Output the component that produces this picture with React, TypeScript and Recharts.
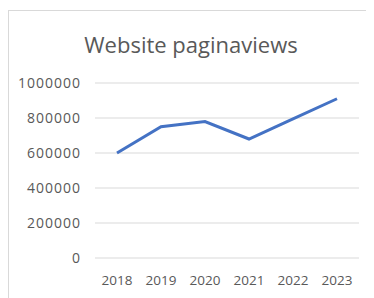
import React from 'react';
import { LineChart, Line, XAxis, YAxis, CartesianGrid } from 'recharts';

const years = ['2018', '2019', '2020', '2021', '2022', '2023'];
const pageviews = [600000, 750000, 780000, 680000, 795000, 910000];
const yTicks = [0, 200000, 400000, 600000, 800000, 1000000];

const data = years.map((year, i) => ({ year, views: pageviews[i] }));

const font = '"Open Sans", sans-serif';

export default function App() {
  return (
    <div
      style={{
        position: 'relative',
        width: 366,
        height: 300,
        marginTop: 2,
        border: '1px solid #d9d9d9',
        boxSizing: 'border-box',
        background: '#fff',
        fontFamily: font,
      }}
    >
      <div
        style={{
          position: 'absolute',
          left: 0,
          right: 0,
          top: 18,
          textAlign: 'center',
          fontSize: 22,
          color: '#595959',
        }}
      >
        Website paginaviews
      </div>
      <LineChart
        width={364}
        height={287}
        data={data}
        margin={{ top: 72, right: 14, bottom: 10, left: 0 }}
      >
        <CartesianGrid horizontal vertical={false} stroke="#d9d9d9" />
        <XAxis
          dataKey="year"
          axisLine={false}
          tickLine={false}
          tickSize={0}
          tickMargin={17}
          height={30}
          padding={{ left: 22, right: 22 }}
          tick={{ fontSize: 13.5, fill: '#595959', fontFamily: font }}
        />
        <YAxis
          domain={[0, 1000000]}
          ticks={yTicks}
          axisLine={false}
          tickLine={false}
          tickSize={0}
          tickMargin={14}
          width={86}
          tick={{ fontSize: 14, fill: '#595959', fontFamily: font, letterSpacing: 1 }}
        />
        <Line
          type="linear"
          dataKey="views"
          stroke="#4472c4"
          strokeWidth={3}
          dot={false}
          isAnimationActive={false}
        />
      </LineChart>
    </div>
  );
}
